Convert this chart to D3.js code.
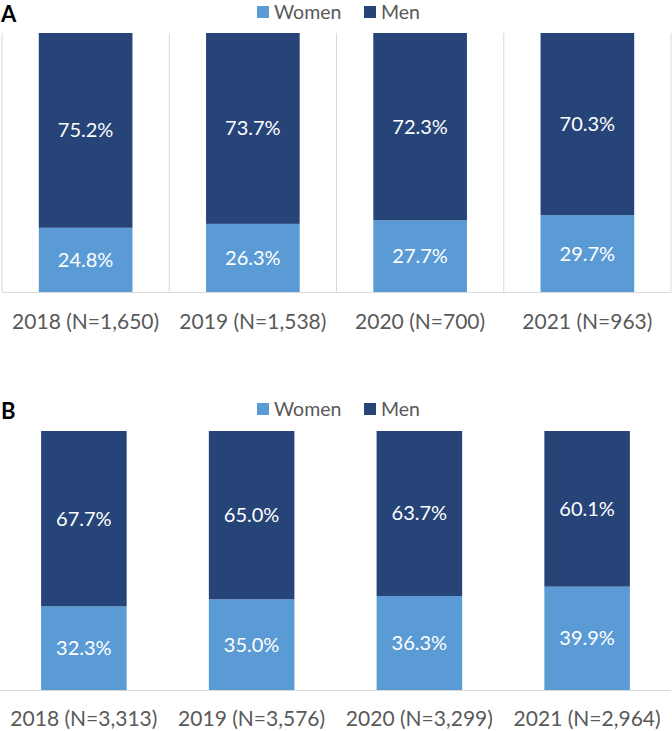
<!DOCTYPE html>
<html>
<head>
<meta charset="utf-8">
<script src="https://cdn.jsdelivr.net/npm/d3@7"></script>
<style>
  body { margin: 0; background: #fff; }
  text { font-family: Lato, "Open Sans", sans-serif; }
</style>
</head>
<body>
<div id="container"></div>
<script>
const seriesNames = ["Women", "Men"];
const colors = ["#5b9bd5", "#264478"];

const yearsA = ["2018 (N=1,650)", "2019 (N=1,538)", "2020 (N=700)", "2021 (N=963)"];
const womenA = [24.8, 26.3, 27.7, 29.7];
const menA = [75.2, 73.7, 72.3, 70.3];

const yearsB = ["2018 (N=3,313)", "2019 (N=3,576)", "2020 (N=3,299)", "2021 (N=2,964)"];
const womenB = [32.3, 35.0, 36.3, 39.9];
const menB = [67.7, 65.0, 63.7, 60.1];

const width = 672, height = 731;
const svg = d3.select("#container").append("svg")
    .attr("width", width)
    .attr("height", height);

// Draw one panel
function drawPanel(opts) {
    const g = svg.append("g");

    const x = d3.scaleBand()
        .domain(opts.years)
        .range([opts.left, opts.right])
        .paddingInner(0)
        .paddingOuter(0);

    const y = d3.scaleLinear()
        .domain([0, 100])
        .range([opts.plotBottom, opts.plotTop]);

    const rows = opts.years.map((yr, i) => ({ year: yr, Women: opts.women[i], Men: opts.men[i] }));
    const stacked = d3.stack().keys(seriesNames)(rows);

    // panel letter
    g.append("text")
        .attr("x", 1)
        .attr("y", opts.letterY)
        .attr("font-family", "Liberation Sans, Arial, sans-serif")
        .attr("font-weight", "bold")
        .attr("font-size", 22)
        .attr("fill", "#000")
        .text(opts.letter);

    // vertical separators
    if (opts.gridlines) {
        const edges = opts.years.map(d => x(d)).concat([opts.right]);
        g.selectAll("line.sep").data(edges).enter().append("line")
            .attr("class", "sep")
            .attr("x1", d => d).attr("x2", d => d)
            .attr("y1", opts.plotTop).attr("y2", opts.plotBottom)
            .attr("stroke", "#d9d9d9").attr("stroke-width", 1);
    }

    const bw = x.bandwidth() * opts.barFrac;
    const off = (x.bandwidth() - bw) / 2;

    const layer = g.selectAll("g.layer").data(stacked).enter().append("g")
        .attr("class", "layer")
        .attr("fill", (d, i) => colors[i]);

    layer.selectAll("rect").data(d => d).enter().append("rect")
        .attr("x", d => x(d.data.year) + off)
        .attr("width", bw)
        .attr("y", d => y(d[1]))
        .attr("height", d => y(d[0]) - y(d[1]));

    layer.selectAll("text.val").data(d => d.map(v => ({ v, key: d.key }))).enter().append("text")
        .attr("class", "val")
        .attr("x", d => x(d.v.data.year) + x.bandwidth() / 2)
        .attr("y", d => (y(d.v[0]) + y(d.v[1])) / 2)
        .attr("dy", "0.35em")
        .attr("text-anchor", "middle")
        .attr("font-size", 20)
        .attr("fill", "#fff")
        .text(d => d.v.data[d.key].toFixed(1) + "%");

    // baseline
    g.append("line")
        .attr("x1", opts.left).attr("x2", opts.right)
        .attr("y1", opts.plotBottom + 0.5).attr("y2", opts.plotBottom + 0.5)
        .attr("stroke", "#d9d9d9").attr("stroke-width", 1);

    // category labels
    g.selectAll("text.cat").data(opts.years).enter().append("text")
        .attr("class", "cat")
        .attr("x", d => x(d) + x.bandwidth() / 2)
        .attr("y", opts.labelY)
        .attr("text-anchor", "middle")
        .attr("font-size", 21)
        .attr("fill", "#595959")
        .text(d => d);

    // legend
    const legend = g.append("g").attr("transform", `translate(0,${opts.legendY})`);
    const legendItems = [{ name: "Women", x: 257 }, { name: "Men", x: 364 }];
    legendItems.forEach((item, i) => {
        legend.append("rect")
            .attr("x", item.x).attr("y", -13)
            .attr("width", 12).attr("height", 12)
            .attr("fill", colors[i]);
        legend.append("text")
            .attr("x", item.x + 17).attr("y", 0)
            .attr("font-size", 19.5)
            .attr("fill", "#595959")
            .text(item.name);
    });
}

drawPanel({
    letter: "A", letterY: 22, legendY: 19,
    years: yearsA, women: womenA, men: menA,
    left: 2, right: 671, plotTop: 33, plotBottom: 292,
    barFrac: 0.56, gridlines: true, labelY: 329
});

drawPanel({
    letter: "B", letterY: 419, legendY: 416,
    years: yearsB, women: womenB, men: menB,
    left: 0, right: 671, plotTop: 431, plotBottom: 690,
    barFrac: 0.51, gridlines: false, labelY: 726
});
</script>
</body>
</html>
